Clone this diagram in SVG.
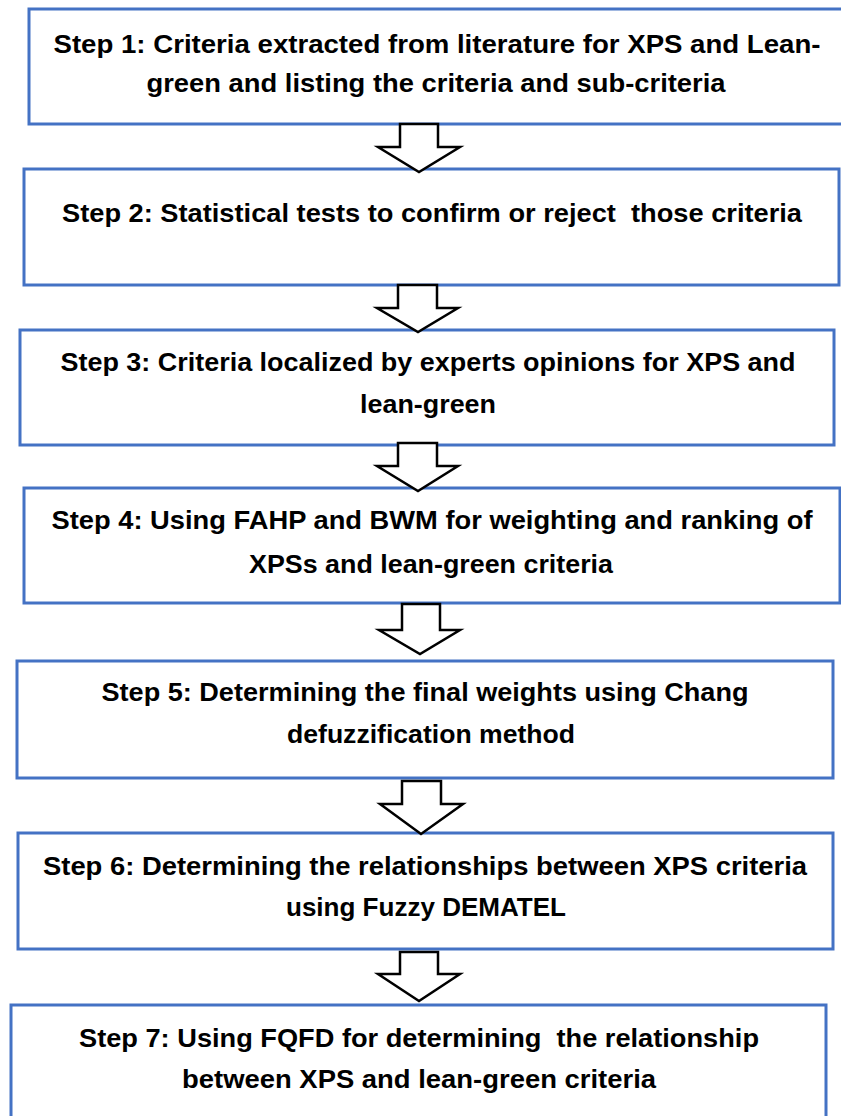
<svg xmlns="http://www.w3.org/2000/svg" width="841" height="1116" viewBox="0 0 841 1116">
<style>
.box{fill:#fff;stroke:#4472C4;stroke-width:3}
.arr{fill:#fff;stroke:#000;stroke-width:2.5;stroke-linejoin:miter}
.t{font-family:"Liberation Sans",Arial,sans-serif;font-weight:bold;font-size:25px;fill:#000;text-anchor:middle;white-space:pre}
</style>
<rect width="841" height="1116" fill="#fff"/>
<g id="step1"><rect class="box" x="29" y="9" width="820" height="115"/>
<text class="t" x="437" y="53" textLength="767" lengthAdjust="spacingAndGlyphs">Step 1: Criteria extracted from literature for XPS and Lean-</text>
<text class="t" x="436" y="92" textLength="579" lengthAdjust="spacingAndGlyphs">green and listing the criteria and sub-criteria</text></g>
<g id="step2"><rect class="box" x="24" y="169" width="815" height="116"/>
<text class="t" x="432" y="222" textLength="740" lengthAdjust="spacingAndGlyphs" xml:space="preserve">Step 2: Statistical tests to confirm or reject  those criteria</text></g>
<g id="step3"><rect class="box" x="20" y="330" width="814" height="115"/>
<text class="t" x="428" y="371" textLength="735" lengthAdjust="spacingAndGlyphs">Step 3: Criteria localized by experts opinions for XPS and</text>
<text class="t" x="428" y="413" textLength="136" lengthAdjust="spacingAndGlyphs">lean-green</text></g>
<g id="step4"><rect class="box" x="24" y="488" width="816" height="115"/>
<text class="t" x="432" y="529" textLength="761" lengthAdjust="spacingAndGlyphs">Step 4: Using FAHP and BWM for weighting and ranking of</text>
<text class="t" x="431" y="573" textLength="364" lengthAdjust="spacingAndGlyphs">XPSs and lean-green criteria</text></g>
<g id="step5"><rect class="box" x="17" y="661" width="816" height="117"/>
<text class="t" x="425" y="701" textLength="647" lengthAdjust="spacingAndGlyphs">Step 5: Determining the final weights using Chang</text>
<text class="t" x="431" y="743" textLength="288" lengthAdjust="spacingAndGlyphs">defuzzification method</text></g>
<g id="step6"><rect class="box" x="18" y="833" width="815" height="116"/>
<text class="t" x="425" y="875" textLength="764" lengthAdjust="spacingAndGlyphs">Step 6: Determining the relationships between XPS criteria</text>
<text class="t" x="426" y="916" textLength="280" lengthAdjust="spacingAndGlyphs">using Fuzzy DEMATEL</text></g>
<g id="step7"><rect class="box" x="11" y="1005" width="815" height="130"/>
<text class="t" x="419" y="1047" textLength="680" lengthAdjust="spacingAndGlyphs" xml:space="preserve">Step 7: Using FQFD for determining  the relationship</text>
<text class="t" x="419" y="1088" textLength="474" lengthAdjust="spacingAndGlyphs">between XPS and lean-green criteria</text></g>
<g id="connectors">
<polygon class="arr" points="400,124 438,124 438,147 460,147 419,172 378,147 400,147"/>
<polygon class="arr" points="398,285 437,285 437,308 458,308 418,332 377,308 398,308"/>
<polygon class="arr" points="398,443 437,443 437,466 458,466 418,491 377,466 398,466"/>
<polygon class="arr" points="402,604 440,604 440,630 460,630 420,654 379,630 402,630"/>
<polygon class="arr" points="402,781 441,781 441,804 463,804 421,834 380,804 402,804"/>
<polygon class="arr" points="400,952 438,952 438,974 460,974 419,1001 378,974 400,974"/>
</g>
</svg>
